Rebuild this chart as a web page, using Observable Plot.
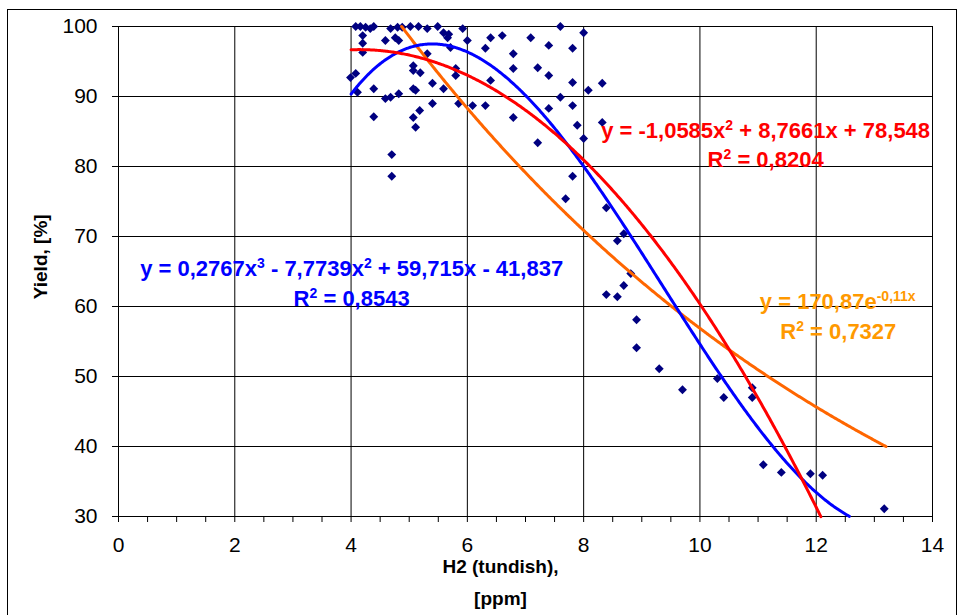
<!DOCTYPE html>
<html>
<head>
<meta charset="utf-8">
<script src="https://cdn.jsdelivr.net/npm/d3@7"></script>
<script src="https://cdn.jsdelivr.net/npm/@observablehq/plot@0.6"></script>
<style>
  body { margin: 0; background: #fff; width: 959px; height: 615px; overflow: hidden; position: relative; }
  #frame { position: absolute; left: 7px; top: 9px; width: 950px; height: 640px; border: 1.5px solid #000; box-sizing: border-box; }
  #chart { position: absolute; left: 0; top: 0; }
</style>
</head>
<body>
<div id="frame"></div>
<div id="chart"></div>
<script>
// ---- data ----
const h2Tundish = [4.08,4.16,4.25,4.33,4.39,4.20,4.20,4.20,3.99,4.08,4.11,4.39,4.39,4.59,4.68,4.80,4.88,5.02,5.16,5.31,
  4.76,4.82,4.59,4.68,4.82,4.70,4.70,5.07,5.07,5.19,5.07,5.11,5.07,5.18,5.11,5.40,5.40,5.49,5.59,5.66,
  5.68,5.59,5.71,5.80,5.80,5.85,5.92,6.00,6.09,6.31,6.31,6.40,6.40,6.60,6.79,6.79,6.79,7.09,7.21,7.21,
  7.40,7.40,7.40,7.60,7.60,7.81,7.81,7.81,7.89,8.00,8.00,8.08,8.32,8.32,7.81,7.69,8.39,8.58,8.69,8.81,
  8.69,8.39,8.58,8.91,8.91,9.30,9.70,10.30,10.41,10.90,10.90,11.09,11.40,11.90,12.11,13.17,5.31];
const yieldPct = [100,100,99.9,99.7,100,98.7,97.6,96.3,92.7,93.3,90.6,91.1,87.1,98,99.7,99.9,99.9,100,100,99.7,
  98.4,98,89.7,89.9,90.4,81.7,78.6,94.4,93.7,93.4,91.1,90.9,87,88,85.6,91.9,89,100,99.1,98.4,
  98.9,91.1,97,94,93,89,99.7,98,88.7,88.7,96.9,98.4,92.3,98.7,96.1,94,87,98.4,94.1,83.4,
  97.3,93,88.3,100,89.9,96.9,92,88.7,85.9,99.1,84,90.9,91.9,86.3,78.6,75.4,74.1,69.4,70.4,64.7,
  63,61.7,61.4,58.1,54.1,51.1,48.1,49.7,47,48.4,47,37.4,36.3,36.1,35.9,31.1,96.1];

// trendline coefficients as printed on the chart
const polyRed = [78.548, 8.7661, -1.0585];            // c0 + c1 x + c2 x^2
const polyBlue = [-41.837, 59.715, -7.7739, 0.2767];  // c0 + c1 x + c2 x^2 + c3 x^3
const expOrange = [170.87, -0.11];                    // a * e^(b x)
const redRange = [4.0, 12.08];
const blueRange = [4.0, 12.57];
const orangeRange = [4.87, 13.2];

const xTickValues = [0,0.5,1,1.5,2,2.5,3,3.5,4,4.5,5,5.5,6,6.5,7,7.5,8,8.5,9,9.5,10,10.5,11,11.5,12,12.5,13,13.5,14];
const xGrid = [0,2,4,6,8,10,12,14];
const yTicks = [30,40,50,60,70,80,90,100];

const eqBlue = ["y = 0,2767x^{3} - 7,7739x^{2} + 59,715x - 41,837", "R^{2} = 0,8543"];
const eqRed = ["y = -1,0585x^{2} + 8,7661x + 78,548", "R^{2} = 0,8204"];
const eqOrange = ["y = 170,87e^{-0,11x}", "R^{2} = 0,7327"];
const xLabel = "H2 (tundish),\n[ppm]";
const yLabel = "Yield, [%]";

// ---- layout (label anchors in data units) ----
const posBlue = [[4.01, 65.4], [4.01, 61.1]];
const posRed = [[11.13, 85.1], [11.13, 80.9]];
const posOrange = [[12.37, 60.7], [12.38, 56.4]];

const points = h2Tundish.map((x, i) => ({x, y: yieldPct[i]}));
const polyVal = (c, x) => c.reduce((s, ci, k) => s + ci * Math.pow(x, k), 0);
const sample = ([a, b], f) => d3.range(a, b, 0.02).concat([b]).map(x => ({x, y: f(x)}));
const redLine = sample(redRange, x => polyVal(polyRed, x));
const blueLine = sample(blueRange, x => polyVal(polyBlue, x));
const orangeLine = sample(orangeRange, x => expOrange[0] * Math.exp(expOrange[1] * x));

const eqMarks = (lines, pos, color) => lines.map((t, i) => Plot.text([t], {
  x: () => pos[i][0], y: () => pos[i][1], text: d => d,
  fill: color, fontSize: 22, fontWeight: "bold", textAnchor: "middle", lineAnchor: "middle"
}));

const chart = Plot.plot({
  width: 959, height: 615,
  marginLeft: 118, marginRight: 27, marginTop: 26, marginBottom: 99,
  style: {fontFamily: "'Liberation Sans', Arial, sans-serif", fontSize: "21px", color: "#000", background: "transparent", overflow: "visible"},
  x: {domain: [0, 14], ticks: xTickValues, tickFormat: d => (d % 2 === 0 ? String(d) : ""), tickSize: 6, tickPadding: 15, label: null},
  y: {domain: [30, 100], ticks: yTicks, tickSize: 6, tickPadding: 15, label: null},
  marks: [
    Plot.ruleX(xGrid, {stroke: "#000", strokeWidth: 1}),
    Plot.ruleY(yTicks, {stroke: "#000", strokeWidth: 1}),
    Plot.dot(points, {x: "x", y: "y", symbol: "diamond2", r: 4, fill: "#000080"}),
    Plot.line(orangeLine, {x: "x", y: "y", stroke: "#FF6600", strokeWidth: 3}),
    Plot.line(blueLine, {x: "x", y: "y", stroke: "#0000FF", strokeWidth: 3}),
    Plot.line(redLine, {x: "x", y: "y", stroke: "#FF0000", strokeWidth: 3}),
    ...eqMarks(eqBlue, posBlue, "#0000FF"),
    ...eqMarks(eqRed, posRed, "#FF0000"),
    ...eqMarks(eqOrange, posOrange, "#FF9900"),
    Plot.text([xLabel], {x: () => 6.57, y: () => 21.1, text: d => d, fontSize: 19, fontWeight: "bold", lineHeight: 1.68, textAnchor: "middle", lineAnchor: "middle"}),
    Plot.text([yLabel], {x: () => -1.34, y: () => 67.1, text: d => d, fontSize: 19, fontWeight: "bold", rotate: -90, textAnchor: "middle", lineAnchor: "middle"})
  ]
});

document.getElementById("chart").appendChild(chart);

// superscript post-processing
const svgNS = "http://www.w3.org/2000/svg";
chart.querySelectorAll("text").forEach(t => {
  const s = t.textContent;
  if (!s.includes("^{")) return;
  while (t.firstChild) t.removeChild(t.firstChild);
  let raised = false;
  for (const p of s.split(/(\^\{[^}]*\})/)) {
    if (!p) continue;
    const ts = document.createElementNS(svgNS, "tspan");
    if (p.startsWith("^{")) {
      ts.textContent = p.slice(2, -1);
      ts.setAttribute("font-size", "14");
      ts.setAttribute("dy", "-8");
      raised = true;
    } else {
      ts.textContent = p;
      if (raised) { ts.setAttribute("dy", "8"); raised = false; }
    }
    t.appendChild(ts);
  }
});
</script>
</body>
</html>
